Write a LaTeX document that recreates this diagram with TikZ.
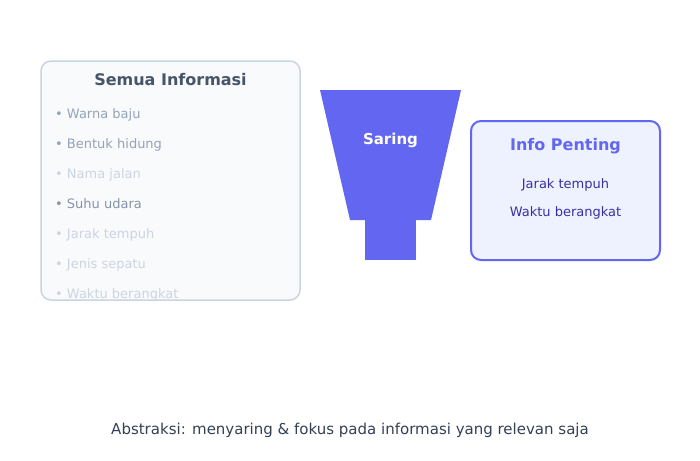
\documentclass[tikz,border=0pt]{standalone}
\usepackage{fontspec}
\setmainfont{DejaVu Sans}
\definecolor{slateA}{HTML}{F8FAFC}
\definecolor{slateB}{HTML}{CBD5E1}
\definecolor{slateC}{HTML}{94A3B8}
\definecolor{slateD}{HTML}{8893A9}
\definecolor{slateE}{HTML}{475569}
\definecolor{slateF}{HTML}{334155}
\definecolor{indA}{HTML}{6366F1}
\definecolor{indB}{HTML}{EEF2FF}
\definecolor{indC}{HTML}{3730A3}
\begin{document}
\begin{tikzpicture}[x=1pt,y=-1pt,
  title/.style={font=\fontsize{16}{18}\selectfont\bfseries, anchor=base, inner sep=0pt},
  item/.style={font=\fontsize{13}{15}\selectfont, anchor=base west, inner sep=0pt},
  picked/.style={font=\fontsize{13}{15}\selectfont, anchor=base, inner sep=0pt, text=indC},
  dim/.style={text=slateB},
  mid/.style={text=slateC}
]
\useasboundingbox (0,0) rectangle (700,460);
\fill[white] (0,0) rectangle (700,460);
% left box
\path[fill=slateA, rounded corners=10pt] (41,61) rectangle (300,300);
\begin{scope}
\clip[rounded corners=10pt] (41,61) rectangle (300,300);
\node[title, text=slateE] (t1) at (170.5,85) {Semua Informasi};
\node[item, mid] (i1) at (55,118) {• Warna baju};
\node[item, mid] (i2) at (55,148) {• Bentuk hidung};
\node[item, dim] (i3) at (55,178) {• Nama jalan};
\node[item, text=slateD] (i4) at (55,208) {• Suhu udara};
\node[item, dim] (i5) at (55,238) {• Jarak tempuh};
\node[item, dim] (i6) at (55,268) {• Jenis sepatu};
\node[item, dim] (i7) at (55,298) {• Waktu berangkat};
\end{scope}
\draw[slateB, line width=1.5pt, rounded corners=10pt] (41,61) rectangle (300,300);
% funnel
\fill[indA] (320,90) -- (461,90) -- (431,220) -- (350,220) -- cycle;
\fill[indA] (365,220) rectangle (416,260);
\node[font=\fontsize{15}{17}\selectfont\bfseries, text=white, anchor=base, inner sep=0pt] (saring) at (390.5,144) {Saring};
% info box
\draw[indA, fill=indB, line width=2pt, rounded corners=10pt] (471,121) rectangle (660,260);
\node[title, text=indA] (t2) at (565.5,150) {Info Penting};
\node[picked] (p1) at (565.5,188) {Jarak tempuh};
\node[picked] (p2) at (565.5,216) {Waktu berangkat};
% caption
\node[font=\fontsize{15}{17}\selectfont, text=slateF, anchor=base, inner sep=0pt] (cap) at (350,434) {Abstraksi: menyaring \& fokus pada informasi yang relevan saja};
\end{tikzpicture}
\end{document}
